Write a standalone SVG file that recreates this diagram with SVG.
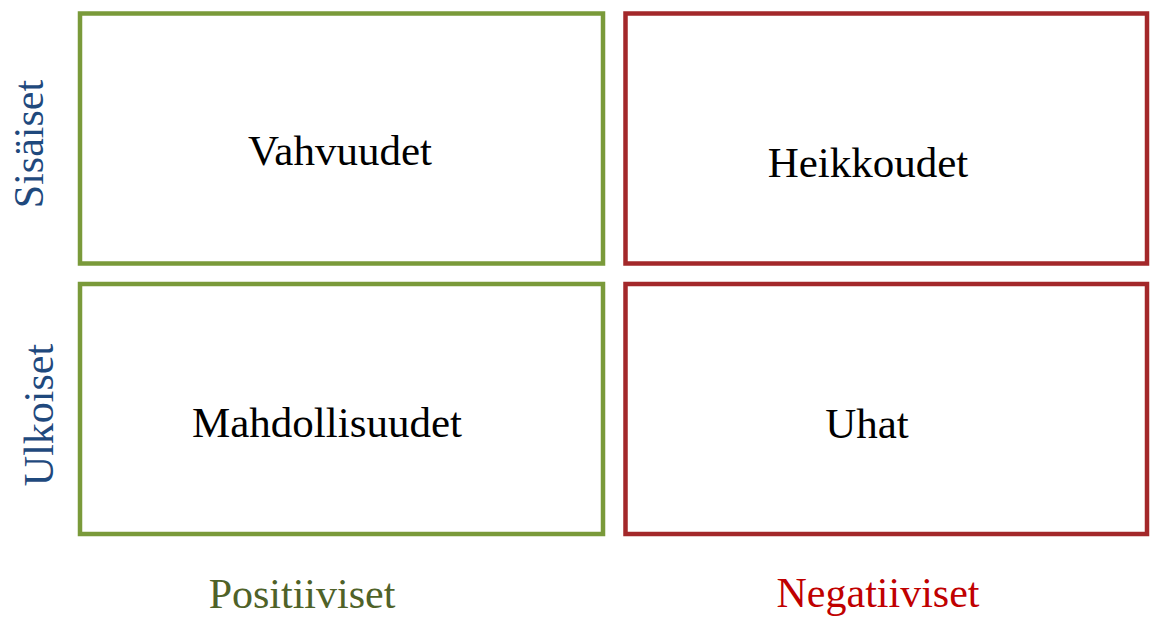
<svg xmlns="http://www.w3.org/2000/svg" width="1150" height="617" viewBox="0 0 1150 617">
<style>
.box{fill:#fff;stroke-width:4.5}
.pos{stroke:#7a9a3a}
.neg{stroke:#a3282a}
.t{font-family:"Liberation Serif","Times New Roman",serif;font-size:42px;text-anchor:middle}
.in{fill:#000;font-size:43px}
.side{fill:#1f497d}
</style>
<rect width="1150" height="617" fill="#fff"/>
<g id="vahvuudet"><rect class="box pos" x="80" y="13.5" width="523" height="250"/><text class="t in" x="340" y="165">Vahvuudet</text></g>
<g id="heikkoudet"><rect class="box neg" x="625.5" y="13.5" width="521.5" height="250"/><text class="t in" x="868" y="177">Heikkoudet</text></g>
<g id="mahdollisuudet"><rect class="box pos" x="80" y="284" width="523" height="250"/><text class="t in" x="327" y="437">Mahdollisuudet</text></g>
<g id="uhat"><rect class="box neg" x="625.5" y="284" width="521.5" height="250"/><text class="t in" x="867" y="438">Uhat</text></g>
<g id="labels">
<text class="t side" transform="translate(43,144) rotate(-90)">Sisäiset</text>
<text class="t side" transform="translate(53,415) rotate(-90)">Ulkoiset</text>
<text class="t" fill="#4f6228" x="302" y="608">Positiiviset</text>
<text class="t" fill="#c00000" x="878" y="607">Negatiiviset</text>
</g>
<g id="connectors"/>
</svg>
